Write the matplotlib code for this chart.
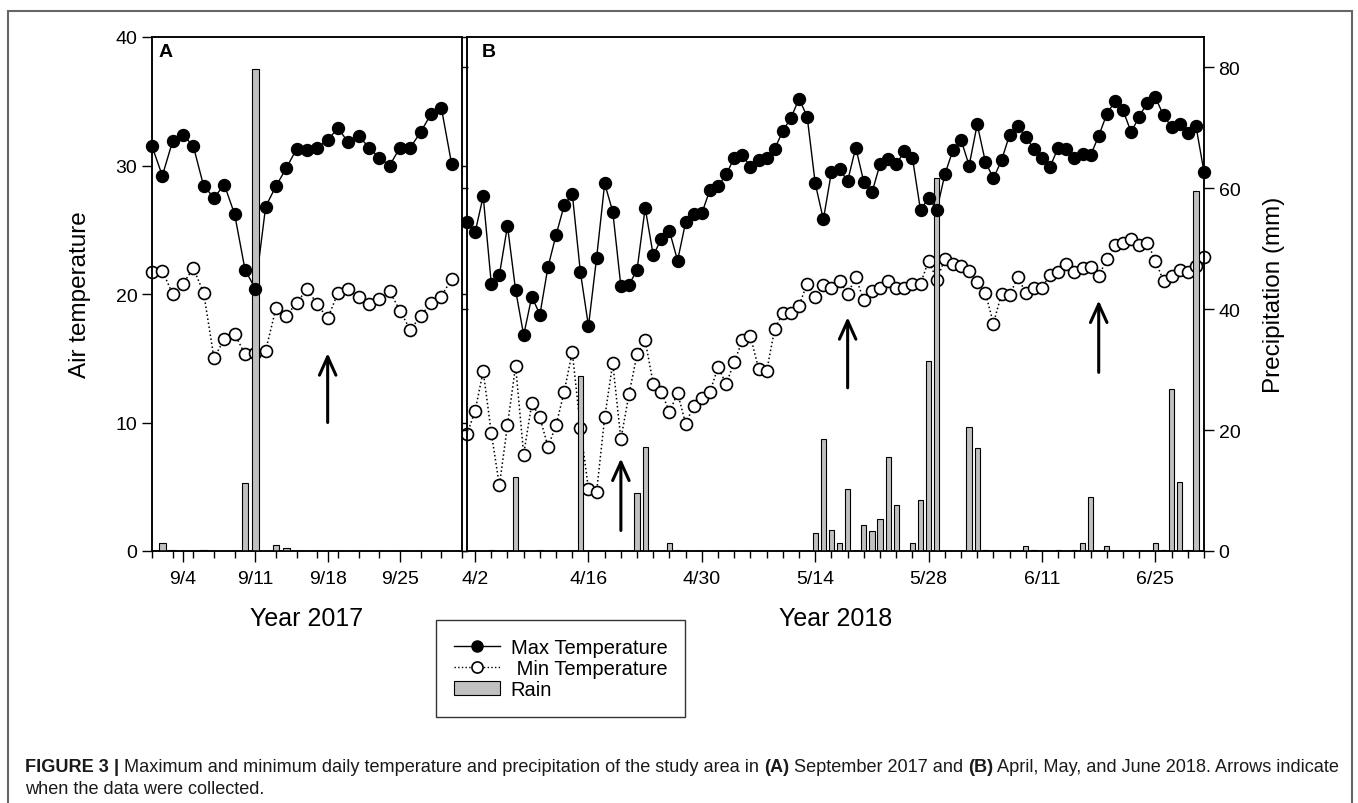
import matplotlib
matplotlib.use("Agg")
import matplotlib.pyplot as plt
from matplotlib.lines import Line2D
from matplotlib.patches import Patch, Rectangle
from matplotlib.ticker import FixedLocator, NullFormatter

plt.rcParams["font.family"] = ["Liberation Sans", "DejaVu Sans"]

# ---- Panel A: September 2017 (day 0 = 9/1) ----
sep_days = list(range(30))
sep_max = [31.5, 29.2, 31.9, 32.4, 31.5, 28.4, 27.5, 28.5, 26.2, 21.9,
           20.4, 26.8, 28.4, 29.8, 31.3, 31.2, 31.4, 32.0, 32.9, 31.8,
           32.3, 31.4, 30.6, 30.0, 31.4, 31.4, 32.6, 34.0, 34.5, 30.1]
sep_min = [21.7, 21.8, 20.0, 20.8, 22.0, 20.1, 15.0, 16.5, 16.9, 15.3,
           15.4, 15.6, 18.9, 18.3, 19.3, 20.4, 19.2, 18.1, 20.1, 20.4,
           19.8, 19.2, 19.6, 20.2, 18.7, 17.2, 18.3, 19.3, 19.8, 21.2]
sep_rain_days = [1, 2, 5, 9, 10, 12, 13]
sep_rain = [1.4, 0.2, 0.2, 11.2, 79.7, 1.0, 0.45]
sep_ticks = [3, 10, 17, 24]
sep_labels = ["9/4", "9/11", "9/18", "9/25"]
sep_arrows = [(17, 10.0, 15.4)]

# ---- Panel B: April - June 2018 (day 0 = 4/1) ----
spr_days = list(range(92))
spr_max = [25.6, 24.8, 27.6, 20.8, 21.5, 25.3, 20.3, 16.8, 19.8, 18.4,
           22.1, 24.6, 26.9, 27.8, 21.7, 17.5, 22.8, 28.6, 26.4, 20.6,
           20.7, 21.9, 26.7, 23.0, 24.3, 24.9, 22.6, 25.6, 26.2, 26.3,
           28.1, 28.4, 29.3, 30.6, 30.8, 29.9, 30.4, 30.6, 31.3, 32.7,
           33.7, 35.2, 33.8, 28.6, 25.8, 29.5, 29.7, 28.8, 31.4, 28.7,
           27.9, 30.1, 30.5, 30.1, 31.1, 30.6, 26.5, 27.5, 26.5, 29.3,
           31.2, 32.0, 30.0, 33.2, 30.3, 29.0, 30.4, 32.4, 33.1, 32.2,
           31.3, 30.6, 29.9, 31.4, 31.3, 30.6, 30.9, 30.8, 32.3, 34.0,
           35.0, 34.3, 32.6, 33.8, 34.9, 35.3, 33.9, 33.0, 33.2, 32.5,
           33.1, 29.5]
spr_min = [9.1, 10.9, 14.0, 9.2, 5.1, 9.8, 14.4, 7.5, 11.5, 10.4,
           8.1, 9.8, 12.4, 15.5, 9.6, 4.8, 4.6, 10.4, 14.6, 8.7,
           12.2, 15.3, 16.4, 13.0, 12.4, 10.8, 12.3, 9.9, 11.3, 11.9,
           12.4, 14.3, 13.0, 14.7, 16.4, 16.7, 14.2, 14.0, 17.3, 18.5,
           18.5, 19.1, 20.8, 19.8, 20.7, 20.5, 21.0, 20.0, 21.3, 19.5,
           20.2, 20.5, 21.0, 20.5, 20.5, 20.8, 20.8, 22.6, 21.1, 22.7,
           22.3, 22.2, 21.8, 20.9, 20.1, 17.7, 20.0, 19.9, 21.3, 20.1,
           20.5, 20.5, 21.5, 21.7, 22.3, 21.7, 22.0, 22.1, 21.4, 22.7,
           23.8, 24.0, 24.3, 23.8, 24.0, 22.6, 21.0, 21.4, 21.9, 21.7,
           22.2, 22.9]
spr_rain_days = [3, 6, 9, 14, 21, 22, 25, 26, 43, 44, 45, 46, 47, 49, 50,
                 51, 52, 53, 55, 56, 57, 58, 62, 63, 64, 69, 70, 73, 75,
                 76, 77, 79, 85, 86, 87, 88, 89, 90]
spr_rain = [0.2, 12.2, 0.2, 29.0, 9.6, 17.2, 1.3, 0.2, 3.0, 18.6, 3.5,
            1.3, 10.2, 4.3, 3.3, 5.3, 15.5, 7.6, 1.3, 8.4, 31.5, 61.7,
            20.5, 17.0, 0.2, 0.8, 0.2, 0.2, 0.2, 1.3, 8.9, 0.8, 1.3, 0.2,
            26.8, 11.4, 0.2, 59.6]
spr_ticks = [1, 15, 29, 43, 57, 71, 85]
spr_labels = ["4/2", "4/16", "4/30", "5/14", "5/28", "6/11", "6/25"]
spr_arrows = [(19, 1.6, 7.2), (47, 12.7, 18.2), (78, 13.9, 19.5)]

temp_ticks = [0, 10, 20, 30, 40]
rain_ticks = [0, 20, 40, 60, 80]

BAR_GREY = "#c0c0c0"
INK = "#1a1a1a"
W, H = 1358, 804
MS = 8.6


def px_box(x0, y0, x1, y1):
    return [x0 / W, 1 - y1 / H, (x1 - x0) / W, (y1 - y0) / H]


def draw_panel(ax, days, tmax, tmin, rain_days, rain, ticks, labels,
               minor, xlim, arrows, letter):
    ax.plot(days, tmin, linestyle=":", color="black", linewidth=1.1,
            marker="o", markersize=MS, markerfacecolor="white",
            markeredgecolor="black", markeredgewidth=1.2, zorder=2,
            clip_on=False)
    ax.plot(days, tmax, linestyle="-", color="black", linewidth=1.0, zorder=2,
            clip_on=False)
    ax.set_xlim(*xlim)
    ax.set_ylim(0, 40)
    ax.yaxis.set_major_locator(FixedLocator(temp_ticks))
    ax.xaxis.set_major_locator(FixedLocator(ticks))
    ax.set_xticklabels(labels)
    ax.xaxis.set_minor_locator(FixedLocator(minor))
    ax.xaxis.set_minor_formatter(NullFormatter())
    ax.tick_params(axis="x", which="major", direction="out", length=8,
                   width=1, labelsize=14, pad=6)
    ax.tick_params(axis="x", which="minor", direction="out", length=5, width=1)
    for arr in arrows:
        d, y0, y1 = arr
        ax.annotate("", xy=(d, y1), xytext=(d, y0),
                    arrowprops=dict(arrowstyle="->,head_length=0.6,head_width=0.27",
                                    lw=2.2, color="black", mutation_scale=22,
                                    shrinkA=0, shrinkB=0))
    ax.text(0.02, 0.988, letter, transform=ax.transAxes, fontsize=14,
            fontweight="bold", va="top", ha="left")

    axr = ax.twinx()
    axr.bar(rain_days, rain, width=0.65, color=BAR_GREY, edgecolor="black",
            linewidth=0.8, zorder=2)
    # filled max markers sit above the rain bars
    axr.plot(days, tmax, linestyle="none", marker="o", markersize=MS,
             color="black", transform=ax.transData, zorder=3, clip_on=False)
    axr.set_ylim(0, 85)
    axr.yaxis.set_major_locator(FixedLocator(rain_ticks))
    for a in (ax, axr):
        for s in a.spines.values():
            s.set_linewidth(1.1)
    return axr


fig = plt.figure(figsize=(W / 100, H / 100), dpi=100)
fig.patch.set_facecolor("white")

ax_a = fig.add_axes(px_box(152, 38, 462, 552))
ax_b = fig.add_axes(px_box(467, 38, 1204, 552))

axr_a = draw_panel(ax_a, sep_days, sep_max, sep_min, sep_rain_days, sep_rain,
                   sep_ticks, sep_labels, list(range(0, 31, 2)), (0, 30),
                   sep_arrows, "A")
axr_b = draw_panel(ax_b, spr_days, spr_max, spr_min, spr_rain_days, spr_rain,
                   spr_ticks, spr_labels, list(range(1, 92, 2)), (0, 91),
                   spr_arrows, "B")
ax_b.set_zorder(ax_a.get_zorder() - 1)
axr_b.set_zorder(ax_a.get_zorder() - 1)

ax_a.tick_params(axis="y", direction="out", length=7, width=1, labelsize=14)
ax_a.set_ylabel("Air temperature", fontsize=17.5, labelpad=18)
axr_a.tick_params(axis="y", direction="out", length=4, width=1,
                  labelright=False)
ax_b.tick_params(axis="y", direction="out", length=4, width=1,
                 labelleft=False)
axr_b.tick_params(axis="y", direction="out", length=7, width=1, labelsize=14)
axr_b.set_ylabel("Precipitation (mm)", fontsize=17.5, labelpad=16)

ax_a.set_xlabel("Year 2017", fontsize=18, labelpad=13)
ax_b.set_xlabel("Year 2018", fontsize=18, labelpad=13)

handles = [
    Line2D([], [], color="black", linestyle="-", linewidth=1, marker="o",
           markersize=8, markerfacecolor="black"),
    Line2D([], [], color="black", linestyle=":", linewidth=1, marker="o",
           markersize=8, markerfacecolor="white", markeredgewidth=1.2),
    Patch(facecolor=BAR_GREY, edgecolor="black", linewidth=0.8),
]
leg = fig.legend(handles, ["Max Temperature", " Min Temperature", "Rain"],
                 loc="upper left", bbox_to_anchor=(436 / W, 1 - 621 / H),
                 frameon=True, fancybox=False, edgecolor="black",
                 fontsize=14.5, handlelength=2.3, handletextpad=0.5,
                 labelspacing=0.1, borderpad=0.9, borderaxespad=0)
leg.get_frame().set_linewidth(1.0)

# outer figure frame (runs off the bottom edge)
fig.patches.append(Rectangle((8 / W, -0.02), (1352 - 8) / W,
                             1.02 - 12 / H, transform=fig.transFigure,
                             fill=False, edgecolor="#666666", linewidth=1.5))

# caption, built piece by piece to mix bold and regular text
cap_size = 13.1
line1 = [("FIGURE 3", "bold"), (" | ", "bold"),
         ("Maximum and minimum daily temperature and precipitation of the "
          "study area in ", "normal"),
         ("(A)", "bold"), (" September 2017 and ", "normal"),
         ("(B)", "bold"),
         (" April, May, and June 2018. Arrows indicate", "normal")]
renderer = fig.canvas.get_renderer()
x = 25
for txt, wt in line1:
    t = fig.text(x / W, 1 - 768 / H, txt, fontsize=cap_size, fontweight=wt,
                 color=INK, va="center", ha="left")
    x += t.get_window_extent(renderer).width
fig.text(25 / W, 1 - 790 / H, "when the data were collected.", fontsize=cap_size,
         color=INK, va="center", ha="left")

fig.savefig("out.png", dpi=100, facecolor="white")
